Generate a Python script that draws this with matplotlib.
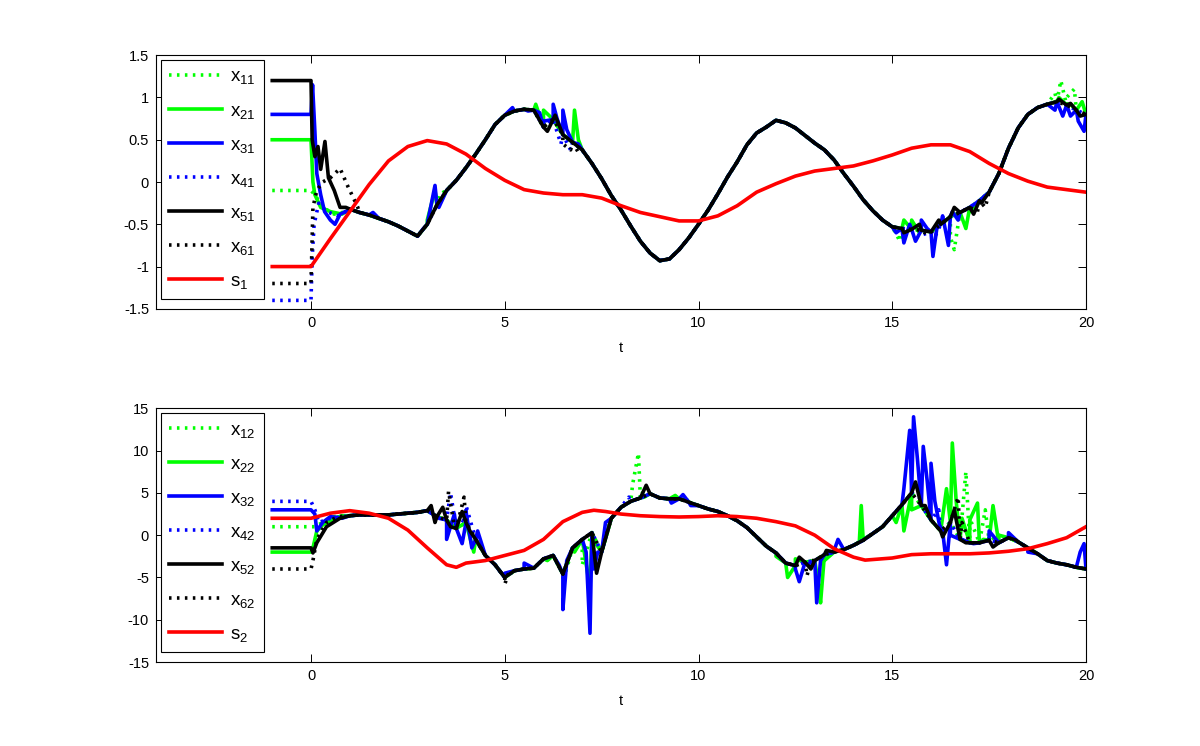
import numpy as np
import matplotlib
matplotlib.use("Agg")
import matplotlib.pyplot as plt

plt.rcParams['font.family'] = ['Liberation Sans', 'DejaVu Sans']
plt.rcParams['mathtext.fontset'] = 'custom'
plt.rcParams['mathtext.rm'] = 'Liberation Sans'
plt.rcParams['mathtext.it'] = 'Liberation Sans'

# common time grid of the consensus part (t >= 1)
t_base = np.arange(1.0, 20.001, 0.25)

# ---------- top panel (first coordinate) ----------
base1 = [-0.32, -0.36, -0.39, -0.43, -0.47, -0.52, -0.58, -0.64,
         -0.50, -0.27, -0.10, 0.02, 0.17, 0.33, 0.50, 0.68,
         0.79, 0.84, 0.86, 0.85, 0.65, 0.74, 0.56, 0.47,
         0.38, 0.22, 0.04, -0.16, -0.33, -0.52, -0.70, -0.84,
         -0.93, -0.91, -0.80, -0.66, -0.50, -0.33, -0.14, 0.06,
         0.24, 0.44, 0.58, 0.65, 0.73, 0.70, 0.64, 0.55,
         0.46, 0.38, 0.26, 0.10, -0.05, -0.21, -0.34, -0.45,
         -0.53, -0.55, -0.56, -0.57, -0.59, -0.50, -0.41, -0.36,
         -0.30, -0.22, -0.12, 0.10, 0.40, 0.64, 0.80, 0.88,
         0.92, 0.95, 0.91, 0.85, 0.80]

init1 = [-0.1, 0.5, 0.8, -1.4, 1.2, -1.2]

tr1_t = [[0, 0.1, 0.3, 0.6, 0.9],
         [0, 0.05, 0.1, 0.25, 0.5, 0.8],
         [0, 0.04, 0.1, 0.15, 0.25, 0.35, 0.5, 0.62, 0.75, 0.9],
         [0, 0.03, 0.08, 0.2, 0.4, 0.7],
         [0, 0.03, 0.1, 0.18, 0.25, 0.36, 0.45, 0.6, 0.75, 0.9],
         [0, 0.05, 0.15, 0.3, 0.5, 0.75, 0.95, 1.2]]
tr1_y = [[-0.1, -0.15, -0.3, -0.38, -0.35],
         [0.5, 0.0, -0.15, -0.3, -0.35, -0.38],
         [0.8, 1.15, 0.6, 0.1, -0.15, -0.35, -0.45, -0.5, -0.38, -0.35],
         [-1.4, -0.9, -0.5, -0.25, -0.35, -0.4],
         [1.2, 0.5, 0.3, 0.42, 0.15, 0.48, 0.05, -0.1, -0.3, -0.3],
         [-1.2, -0.3, -0.1, 0.0, 0.05, 0.16, -0.05, -0.29]]

sp1_t = [[3.1, 3.3, 3.5, 6.7, 15.2, 15.4, 16.5, 16.6, 16.7, 19.2, 19.35, 19.5, 19.7],
         [3.0, 3.2, 3.3, 5.8, 6.0, 6.8, 6.9, 15.3, 15.5, 15.7, 16.9, 17.0, 19.3, 19.6, 19.9],
         [1.6, 2.9, 3.2, 3.3, 5.2, 5.6, 5.9, 6.0, 6.25, 6.35, 6.5, 6.6, 6.9,
          15.1, 15.3, 15.45, 15.6, 15.75, 15.9, 16.05, 16.15, 16.3, 16.45, 16.55, 16.7,
          19.2, 19.4, 19.6, 19.8, 19.95],
         [6.45, 6.7, 15.8, 16.1],
         [6.1, 6.3, 15.3, 15.7, 16.2, 16.6, 17.1, 17.3, 19.3, 19.6, 19.85],
         [6.5, 6.7, 6.9, 15.9, 16.3, 17.2, 17.4]]
sp1_y = [[-0.35, -0.15, -0.1, 0.5, -0.7, -0.55, -0.65, -0.8, -0.5, 1.05, 1.2, 1.0, 1.1],
         [-0.45, -0.1, -0.25, 0.92, 0.85, 0.85, 0.5, -0.45, -0.45, -0.6, -0.55, -0.35, 1.0, 0.92, 0.95],
         [-0.36, -0.55, -0.04, -0.3, 0.88, 0.84, 0.82, 0.72, 0.92, 0.75, 0.85, 0.62, 0.45,
          -0.6, -0.72, -0.5, -0.7, -0.45, -0.55, -0.88, -0.55, -0.4, -0.75, -0.35, -0.45,
          0.85, 0.78, 0.78, 0.72, 0.6],
         [0.45, 0.38, -0.62, -0.65],
         [0.6, 0.79, -0.6, -0.5, -0.45, -0.3, -0.38, -0.25, 0.98, 0.93, 0.78],
         [0.45, 0.38, 0.35, -0.62, -0.48, -0.35, -0.3]]

s1_t = [-1, 0, 0.5, 1, 1.5, 2, 2.5, 3, 3.5, 4, 4.5, 5, 5.5, 6, 6.5, 7, 7.5, 8, 8.5, 9, 9.5,
        10, 10.5, 11, 11.5, 12, 12.5, 13, 13.5, 14, 14.5, 15, 15.5, 16, 16.5, 17, 17.5,
        18, 18.5, 19, 19.5, 20]
s1_y = [-1.0, -1.0, -0.67, -0.35, -0.03, 0.25, 0.42, 0.49, 0.45, 0.33, 0.16, 0.02, -0.09,
        -0.13, -0.15, -0.15, -0.19, -0.28, -0.36, -0.41, -0.46, -0.46, -0.4, -0.28, -0.12,
        -0.02, 0.07, 0.13, 0.16, 0.19, 0.25, 0.32, 0.4, 0.44, 0.44, 0.36, 0.22, 0.1, 0.01,
        -0.06, -0.09, -0.12]

# ---------- bottom panel (second coordinate) ----------
base2 = [2.3, 2.4, 2.4, 2.4, 2.4, 2.5, 2.6, 2.7,
         2.9, 2.2, 1.8, 0.8, 1.5, -0.5, -2.4, -3.5,
         -5.0, -4.2, -4.0, -3.9, -2.8, -2.4, -4.6, -1.5,
         -0.5, 0.3, -2.0, 2.0, 3.3, 4.0, 4.4, 4.9,
         4.4, 4.3, 4.3, 3.9, 3.5, 3.1, 2.8, 2.3,
         1.7, 0.9, -0.2, -1.3, -2.1, -3.3, -3.6, -3.2,
         -3.0, -2.3, -2.0, -1.7, -1.2, -0.6, 0.2, 1.0,
         2.3, 3.6, 5.0, 3.5, 1.8, 0.5, 1.5, -0.5,
         -0.9, -0.9, -0.6, -0.9, -0.3, -0.8, -1.5, -2.2,
         -3.0, -3.3, -3.5, -3.8, -4.0]

init2 = [1.0, -2.0, 3.0, 4.0, -1.5, -4.0]

tr2_t = [[0, 0.1, 0.3, 0.6],
         [0, 0.05, 0.15, 0.3, 0.6, 0.8],
         [0, 0.1, 0.15, 0.3, 0.5, 0.8],
         [0, 0.1, 0.2, 0.5],
         [0, 0.05, 0.15, 0.4, 0.75],
         [0, 0.05, 0.15, 0.4, 0.7]]
tr2_y = [[1.0, 1.0, 1.5, 2.2],
         [-2.0, -1.5, 0.5, 1.2, 2.0, 2.3],
         [3.0, 2.5, 0.5, 1.5, 2.2, 2.0],
         [4.0, 3.0, 1.5, 2.0],
         [-1.5, -2.1, -0.9, 1.0, 2.0],
         [-4.0, -3.0, -0.5, 1.5, 2.2]]

sp2_t = [[6.5, 7.0, 8.3, 8.45, 8.55, 16.9, 17.0, 17.4, 17.5],
         [4.2, 6.1, 6.8, 7.2, 7.35, 8.6, 9.4, 9.7, 12.0, 12.3, 12.5, 13.1, 13.15, 13.25,
          14.15, 14.2, 14.25, 15.1, 15.3, 15.5, 16.4, 16.55, 16.65, 16.8, 17.0, 17.2,
          17.35, 17.6, 17.75, 18.1],
         [3.3, 3.5, 3.7, 3.9, 4.0, 4.15, 4.3, 5.0, 5.5, 6.0, 6.4, 6.5, 6.6, 7.1, 7.2, 7.3,
          7.4, 7.6, 9.3, 9.6, 9.8, 12.5, 12.6, 12.8, 13.05, 13.15, 13.5, 13.6,
          15.3, 15.45, 15.55, 15.65, 15.8, 15.9, 16.0, 16.1, 16.3, 16.4, 16.5, 16.8,
          17.1, 17.5, 18.0, 18.5, 19.85, 19.95],
         [3.6, 3.8, 4.0, 8.2, 15.7, 16.2],
         [3.1, 3.2, 3.4, 3.6, 3.9, 4.1, 7.37, 8.65, 12.6, 12.9, 13.3, 15.6, 15.85, 16.3,
          16.6, 16.9, 17.6, 18.2],
         [3.55, 3.7, 3.95, 5.0, 5.1, 12.8, 12.9, 16.7, 16.8]]
sp2_y = [[-5.5, -3.5, 6.0, 9.7, 5.0, 7.5, 2.0, 3.0, 0.0],
         [-2.0, -3.0, -2.0, -6.3, -1.0, 4.5, 4.7, 4.2, -2.5, -5.0, -2.8, -6.0, -8.0, -3.0,
          -0.8, 3.5, -0.5, 1.5, 0.5, 3.0, 5.5, 10.9, 4.0, 2.0, 1.8, 3.8,
          -0.5, 3.5, 0.0, -0.5],
         [2.0, -0.5, 2.5, -1.0, 2.8, -1.5, 0.5, -4.5, -3.3, -2.8, -3.5, -8.8, -3.0, -2.0,
          -11.6, -4.0, -2.0, 1.5, 3.8, 4.8, 3.5, -4.0, -5.5, -3.5, -8.0, -3.0, -1.8, -0.5,
          5.5, 12.4, 14.0, 9.0, 10.5, 6.5, 8.5, 4.0, 0.5, -3.5, 0.0, -0.5,
          -1.0, 0.5, 0.3, -2.0, -2.0, -1.0],
         [5.0, 2.0, 3.5, 4.5, 4.5, 3.0],
         [3.5, 1.5, 3.3, 1.0, 2.8, 0.5, -4.5, 5.9, -2.6, -4.0, -1.8, 6.3, 3.5, -0.2,
          3.0, -0.9, -1.4, -0.6],
         [5.2, 1.0, 4.5, -5.8, -4.5, -4.8, -3.0, 4.5, 1.5]]

s2_t = [-1, 0, 0.5, 1.0, 1.5, 2.0, 2.5, 3.0, 3.5, 3.75, 4.0, 4.5, 5.0, 5.5, 6.0, 6.5, 7.0,
        7.3, 7.6, 8.0, 8.5, 9.0, 9.5, 10.0, 10.5, 11.0, 11.5, 12.0, 12.5, 13.0, 13.5, 14.0,
        14.3, 15.0, 15.5, 16.0, 16.5, 17.0, 17.5, 18.0, 18.5, 19.0, 19.5, 20.0]
s2_y = [2.0, 2.0, 2.6, 2.9, 2.6, 2.0, 0.6, -1.5, -3.5, -3.8, -3.3, -3.0, -2.4, -1.8, -0.5,
        1.6, 2.7, 2.95, 2.8, 2.5, 2.3, 2.2, 2.15, 2.2, 2.3, 2.2, 2.0, 1.6, 1.1, 0.0, -1.6,
        -2.6, -2.95, -2.7, -2.3, -2.2, -2.2, -2.2, -2.1, -1.9, -1.6, -1.0, -0.3, 1.0]

labels1 = ['x$_{11}$', 'x$_{21}$', 'x$_{31}$', 'x$_{41}$', 'x$_{51}$', 'x$_{61}$', 's$_{1}$']
labels2 = ['x$_{12}$', 'x$_{22}$', 'x$_{32}$', 'x$_{42}$', 'x$_{52}$', 'x$_{62}$', 's$_{2}$']
colors = ['#00ff00', '#00ff00', '#0000ff', '#0000ff', 'black', 'black']
dot = (0, (0.7, 1.5))
styles = [dot, '-', '-', dot, '-', dot]


def build(init, tr_t, tr_y, base, sp_t, sp_y):
    # initial hold on [-1, 0], transient, consensus part, extra read-off peaks
    tb = np.array(t_base)
    yb = np.array(base)
    keep = tb > max(tr_t)
    t = np.concatenate([[-1], tr_t, tb[keep], sp_t])
    y = np.concatenate([[init], tr_y, yb[keep], sp_y])
    order = np.argsort(t, kind='stable')
    return t[order], y[order]


fig = plt.figure(figsize=(12, 7.46), dpi=100)
ax1 = fig.add_axes([0.13, 0.586, 0.775, 0.340])
ax2 = fig.add_axes([0.13, 0.1126, 0.775, 0.340])

panels = [(ax1, base1, init1, tr1_t, tr1_y, sp1_t, sp1_y, s1_t, s1_y, labels1,
           (-1.5, 1.5), np.arange(-1.5, 1.51, 0.5)),
          (ax2, base2, init2, tr2_t, tr2_y, sp2_t, sp2_y, s2_t, s2_y, labels2,
           (-15, 15), np.arange(-15, 16, 5))]

for ax, base, init, tr_t, tr_y, sp_t, sp_y, s_t, s_y, labels, ylim, yt in panels:
    for i in range(6):
        t, y = build(init[i], tr_t[i], tr_y[i], base, sp_t[i], sp_y[i])
        ax.plot(t, y, color=colors[i], linestyle=styles[i], lw=2.6, label=labels[i],
                dash_capstyle='butt', solid_joinstyle='round')
    ax.plot(s_t, s_y, color='#ff0000', lw=2.6, label=labels[6])
    ax.set_xlim(-4, 20)
    ax.set_ylim(*ylim)
    ax.set_xticks([0, 5, 10, 15, 20])
    ax.set_yticks(yt)
    ax.set_yticklabels([('%g' % v) for v in yt])
    ax.tick_params(direction='in', top=True, right=True, length=5.5, width=0.7,
                   labelsize=10.5, pad=5)
    for s in ax.spines.values():
        s.set_linewidth(0.8)
    ax.set_xlabel('t', fontsize=10.5, labelpad=8)
    leg = ax.legend(loc='upper left', fontsize=13.5, handlelength=2.8, labelspacing=0.85,
                    borderaxespad=0.25, fancybox=False, edgecolor='black', framealpha=1,
                    handletextpad=0.45, borderpad=0.45)
    leg.get_frame().set_linewidth(0.8)

fig.savefig('out.png', dpi=100)
